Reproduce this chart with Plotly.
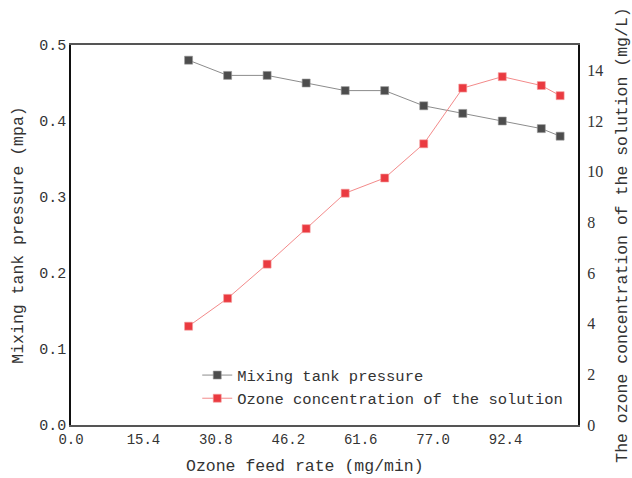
import plotly.graph_objects as go

feed_rate = [25.0, 33.3, 41.7, 50.0, 58.3, 66.7, 75.0, 83.3, 91.7, 100.0, 104.0]
pressure = [0.48, 0.46, 0.46, 0.45, 0.44, 0.44, 0.42, 0.41, 0.40, 0.39, 0.38]
ozone_conc = [3.9, 5.0, 6.35, 7.75, 9.15, 9.75, 11.1, 13.3, 13.75, 13.4, 13.0]

x_ticks = [0.0, 15.4, 30.8, 46.2, 61.6, 77.0, 92.4]
left_ticks = [0.0, 0.1, 0.2, 0.3, 0.4, 0.5]
right_ticks = [0, 2, 4, 6, 8, 10, 12, 14]

MONO = "Liberation Mono"
SERIF = "Liberation Serif"
TXT = "#333333"

fig = go.Figure()
fig.add_trace(go.Scatter(
    x=feed_rate, y=pressure, name="Mixing tank pressure",
    mode="lines+markers",
    line=dict(color="#8c8c8c", width=1),
    marker=dict(symbol="square", size=8, color="#4d4d4d",
                line=dict(color="#9a9a9a", width=0.6)),
    yaxis="y",
))
fig.add_trace(go.Scatter(
    x=feed_rate, y=ozone_conc, name="Ozone concentration of the solution",
    mode="lines+markers",
    line=dict(color="#f38a8a", width=1),
    marker=dict(symbol="square", size=8, color="#ea3a40",
                line=dict(color="#f5a0a0", width=0.6)),
    yaxis="y2",
))

fig.update_layout(
    width=632, height=478,
    margin=dict(l=71, r=54, t=45, b=53),
    paper_bgcolor="white", plot_bgcolor="white",
    showlegend=True,
    legend=dict(x=0.249, y=0.10, xanchor="left", yanchor="middle",
                bgcolor="rgba(0,0,0,0)", font=dict(family=MONO, size=15.5, color=TXT),
                tracegroupgap=0),
    xaxis=dict(
        range=[0, 107.8], tickvals=x_ticks, ticktext=[f"{v:.1f}" for v in x_ticks],
        showgrid=False, zeroline=False, ticks="", automargin=False,
        showline=True, linecolor="#555555", linewidth=2, mirror=True,
        tickfont=dict(family=MONO, size=14, color=TXT),
    ),
    yaxis=dict(
        range=[0, 0.5], tickvals=left_ticks, ticktext=[f"{v:.1f}" for v in left_ticks],
        showgrid=False, zeroline=False, ticks="", automargin=False,
        showline=True, linecolor="#111111", linewidth=1.5,
        tickfont=dict(family=MONO, size=15, color=TXT),
        title=dict(text="Mixing tank pressure (mpa)", standoff=11,
                   font=dict(family=MONO, size=16.5, color=TXT)),
    ),
    yaxis2=dict(
        range=[0, 15], tickvals=right_ticks, ticktext=[str(v) for v in right_ticks],
        overlaying="y", side="right",
        showgrid=False, zeroline=False, ticks="", ticklabelstandoff=4, automargin=False,
        showline=True, linecolor="#111111", linewidth=2,
        tickfont=dict(family=SERIF, size=16, color=TXT),
        title=dict(text="The ozone concentration of the solution (mg/L)", standoff=13,
                   font=dict(family=MONO, size=16.5, color=TXT)),
    ),
    annotations=[dict(
        text="Ozone feed rate (mg/min)", xref="paper", yref="paper",
        x=(305 - 71) / 507, y=-(467 - 425) / 380, xanchor="center", yanchor="middle",
        showarrow=False, font=dict(family=MONO, size=16.5, color=TXT),
    )],
)

fig.write_html("out.html")
